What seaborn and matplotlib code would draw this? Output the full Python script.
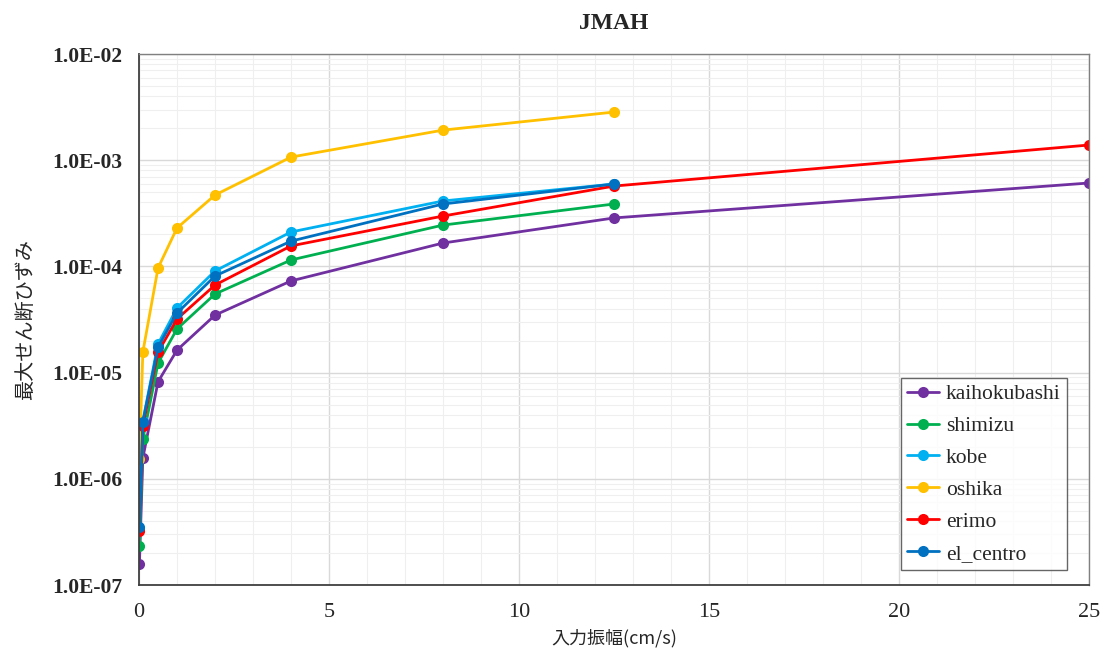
import numpy as np
import pandas as pd
import matplotlib
matplotlib.use("Agg")
import matplotlib.pyplot as plt
import matplotlib.ticker as mticker
import seaborn as sns

# Input amplitude (cm/s)
amplitude = [0.01, 0.1, 0.5, 1, 2, 4, 8, 12.5, 25]

# Maximum shear strain per input wave
kaihokubashi = [1.58e-7, 1.57e-6, 8.2e-6, 1.63e-5, 3.48e-5, 7.3e-5, 1.66e-4, 2.86e-4, 6.1e-4]
shimizu = [2.33e-7, 2.37e-6, 1.23e-5, 2.58e-5, 5.5e-5, 1.15e-4, 2.45e-4, 3.87e-4]
kobe = [3.4e-7, 3.5e-6, 1.86e-5, 4.06e-5, 9.06e-5, 2.11e-4, 4.13e-4, 5.97e-4]
oshika = [1.54e-6, 1.56e-5, 9.66e-5, 2.30e-4, 4.70e-4, 1.07e-3, 1.92e-3, 2.84e-3]
erimo = [3.22e-7, 3.14e-6, 1.56e-5, 3.20e-5, 6.68e-5, 1.56e-4, 2.98e-4, 5.71e-4, 1.39e-3]
el_centro = [3.52e-7, 3.43e-6, 1.74e-5, 3.64e-5, 8.12e-5, 1.73e-4, 3.87e-4, 5.97e-4]

series = {
    "kaihokubashi": kaihokubashi,
    "shimizu": shimizu,
    "kobe": kobe,
    "oshika": oshika,
    "erimo": erimo,
    "el_centro": el_centro,
}
colors = ["#7030A0", "#00B050", "#00B0F0", "#FFC000", "#FF0000", "#0070C0"]

rows = []
for name, vals in series.items():
    for x, v in zip(amplitude, vals):
        rows.append({"wave": name, "amp": x, "strain": v})
df = pd.DataFrame(rows)

sns.set_style("white")
plt.rcParams["font.family"] = ["Liberation Serif", "Noto Sans CJK JP"]

fig = plt.figure(figsize=(11.07, 6.53), dpi=100)
ax = fig.add_axes([0.1256, 0.1041, 0.8581, 0.8132])

sns.lineplot(data=df, x="amp", y="strain", hue="wave",
             hue_order=list(series.keys()), palette=colors,
             marker="o", markersize=8, markeredgewidth=0,
             linewidth=2, sort=False, ax=ax)

ax.set_yscale("log")
ax.set_xlim(0, 25)
ax.set_ylim(1e-7, 1e-2)

ax.xaxis.set_major_locator(mticker.MultipleLocator(5))
ax.xaxis.set_minor_locator(mticker.MultipleLocator(1))
ax.yaxis.set_major_locator(mticker.LogLocator(base=10, numticks=10))
ax.yaxis.set_minor_locator(mticker.LogLocator(base=10, subs=np.arange(2, 10), numticks=20))
ax.yaxis.set_major_formatter(mticker.FuncFormatter(lambda v, p: f"{v:.1E}"))
ax.yaxis.set_minor_formatter(mticker.NullFormatter())

ax.grid(which="major", color="#d9d9d9", linewidth=1.0)
ax.grid(which="minor", color="#efefef", linewidth=0.8)
ax.set_axisbelow(True)

ax.tick_params(axis="both", which="both", direction="in", color="#404040")
ax.tick_params(axis="both", which="major", length=6, width=1)
ax.tick_params(axis="both", which="minor", length=5, width=0.8)
ax.tick_params(axis="y", which="major", pad=12)
ax.tick_params(axis="x", which="major", pad=13)

for lab in ax.get_yticklabels():
    lab.set_fontweight("bold")
    lab.set_fontsize(15.5)
for lab in ax.get_xticklabels():
    lab.set_fontsize(16)

for side in ["left", "bottom"]:
    ax.spines[side].set_color("#404040")
    ax.spines[side].set_linewidth(1.3)
for side in ["top", "right"]:
    ax.spines[side].set_color("#808080")
    ax.spines[side].set_linewidth(1.0)

ax.set_title("JMAH", fontsize=17, fontweight="bold", pad=18)
ax.set_xlabel("入力振幅(cm/s)", fontsize=13, family=["Noto Sans CJK JP"], labelpad=5)
ax.set_ylabel("最大せん断ひずみ", fontsize=14.5, family=["Noto Sans CJK JP"], labelpad=12)

handles, labels = ax.get_legend_handles_labels()
leg = ax.legend(handles, labels, loc="lower right", bbox_to_anchor=(0.977, 0.028),
                frameon=True, fancybox=False, fontsize=15.5, labelspacing=0.55,
                handlelength=1.5, handletextpad=0.3, borderpad=0.3,
                borderaxespad=0.0)
leg.get_frame().set_edgecolor("#404040")
leg.get_frame().set_linewidth(1.0)

fig.savefig("out.png", dpi=100)
